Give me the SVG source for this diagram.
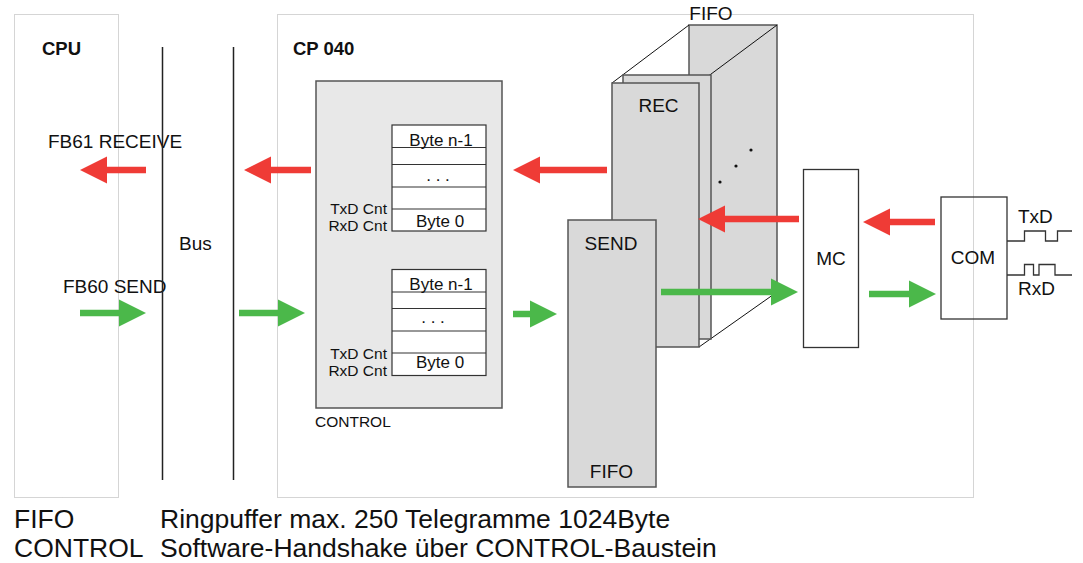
<svg xmlns="http://www.w3.org/2000/svg" width="1083" height="563" viewBox="0 0 1083 563">
<style>
text{font-family:"Liberation Sans",Arial,sans-serif;fill:#111}
.t19{font-size:19px}
.b{font-size:18.5px;font-weight:bold}
.s{font-size:15.5px}
.by{font-size:17px}
.big{font-size:26.5px}
.mid{text-anchor:middle}
.end{text-anchor:end}
.dot{fill:none;stroke:#aaa;stroke-width:1;stroke-dasharray:1 1}
.bus{stroke:#222;stroke-width:1.5}
.ctl{fill:#e8e8e8;stroke:#555;stroke-width:1.5}
.tab{fill:#fff;stroke:#333;stroke-width:1.2}
.row{stroke:#333;stroke-width:1.2}
.grey{fill:#d9d9d9;stroke:#555;stroke-width:1.5}
.edge{stroke:#111;stroke-width:1;fill:none}
.box{fill:#fff;stroke:#333;stroke-width:1.3}
.red{stroke:#ef3b36;stroke-width:6.5;marker-end:url(#hr)}
.grn{stroke:#4bb84a;stroke-width:6.5;marker-end:url(#hg)}
.sig{fill:none;stroke:#333;stroke-width:1.3}
</style>
<defs>
<marker id="hr" markerUnits="userSpaceOnUse" markerWidth="28" markerHeight="28" refX="0" refY="13.5" orient="auto" viewBox="0 0 28 28" overflow="visible"><path d="M0,0 L27,13.5 L0,27 z" fill="#ef3b36"/></marker>
<marker id="hg" markerUnits="userSpaceOnUse" markerWidth="28" markerHeight="28" refX="0" refY="13.5" orient="auto" viewBox="0 0 28 28" overflow="visible"><path d="M0,0 L27,13.5 L0,27 z" fill="#4bb84a"/></marker>
</defs>
<rect width="1083" height="563" fill="#fff"/>

<g id="cpu">
<rect class="dot" x="14.5" y="14.5" width="104" height="483"/>
<text class="b" x="42" y="55">CPU</text>
<text class="t19" x="48" y="148">FB61 RECEIVE</text>
<text class="t19" x="63" y="293">FB60 SEND</text>
</g>

<g id="bus">
<line class="bus" x1="162.5" y1="47" x2="162.5" y2="480"/>
<line class="bus" x1="233.5" y1="47" x2="233.5" y2="480"/>
<text class="t19" x="179" y="250">Bus</text>
</g>

<g id="cp040">
<rect class="dot" x="277.5" y="14.5" width="696" height="483"/>
<text class="b" x="293" y="55">CP 040</text>
</g>

<g id="control">
<rect class="ctl" x="316" y="81" width="186" height="327"/>
<text class="s" x="315" y="427">CONTROL</text>
</g>

<g id="table-receive">
<rect class="tab" x="392" y="125" width="94" height="106"/>
<line class="row" x1="392" y1="147.5" x2="486" y2="147.5"/>
<line class="row" x1="392" y1="164.5" x2="486" y2="164.5"/>
<line class="row" x1="392" y1="187" x2="486" y2="187"/>
<line class="row" x1="392" y1="209" x2="486" y2="209"/>
<text class="by mid" x="441" y="146">Byte n-1</text>
<text class="by mid" x="438" y="181">. . .</text>
<text class="by mid" x="440" y="227">Byte 0</text>
<text class="s end" x="387" y="214">TxD Cnt</text>
<text class="s end" x="387" y="231">RxD Cnt</text>
</g>

<g id="table-send">
<rect class="tab" x="392" y="269.5" width="94" height="106"/>
<line class="row" x1="392" y1="292" x2="486" y2="292"/>
<line class="row" x1="392" y1="308.5" x2="486" y2="308.5"/>
<line class="row" x1="392" y1="331" x2="486" y2="331"/>
<line class="row" x1="392" y1="353" x2="486" y2="353"/>
<text class="by mid" x="441" y="290">Byte n-1</text>
<text class="by mid" x="433" y="323">. . .</text>
<text class="by mid" x="440" y="368">Byte 0</text>
<text class="s end" x="387" y="359">TxD Cnt</text>
<text class="s end" x="387" y="376">RxD Cnt</text>
</g>

<g id="fifo-rec">
<rect class="grey" x="689" y="25" width="88" height="267"/>
<line class="edge" x1="612" y1="83" x2="689" y2="25"/>
<line class="edge" x1="699" y1="83" x2="777" y2="25"/>
<line class="edge" x1="699" y1="347" x2="777" y2="292"/>
<rect class="grey" x="623" y="75" width="88" height="264"/>
<rect class="grey" x="612" y="83" width="87" height="264"/>
<circle cx="751" cy="150" r="1.6" fill="#111"/>
<circle cx="736" cy="166" r="1.6" fill="#111"/>
<circle cx="720" cy="182" r="1.6" fill="#111"/>
<text class="t19 mid" x="711" y="20">FIFO</text>
<text class="t19 mid" x="658.5" y="112">REC</text>
</g>

<g id="fifo-send">
<rect class="grey" x="568" y="220" width="88" height="267"/>
<text class="t19 mid" x="611" y="250">SEND</text>
<text class="t19 mid" x="611.5" y="478">FIFO</text>
</g>

<g id="mc">
<rect class="box" x="803.5" y="169.5" width="55" height="178"/>
<text class="t19 mid" x="831" y="265">MC</text>
</g>

<g id="com">
<rect class="box" x="941" y="197" width="66" height="122" fill="none" style="fill:none"/>
<text class="t19 mid" x="973" y="264">COM</text>
<polyline class="sig" points="1007,241 1024.5,241 1024.5,231 1045.5,231 1045.5,241 1057.5,241 1057.5,231 1072,231"/>
<polyline class="sig" points="1007,275 1024.5,275 1024.5,264.5 1033.5,264.5 1033.5,275 1039,275 1039,264.5 1055,264.5 1055,275 1072,275"/>
<text class="t19" x="1018" y="223">TxD</text>
<text class="t19" x="1018" y="295">RxD</text>
</g>

<g id="connectors">
<line class="red" x1="146" y1="170" x2="107" y2="170"/>
<line class="red" x1="311" y1="170" x2="271" y2="170"/>
<line class="red" x1="607" y1="170" x2="540" y2="170"/>
<line class="red" x1="799" y1="219" x2="725" y2="219"/>
<line class="red" x1="935" y1="222" x2="890" y2="222"/>
<line class="grn" x1="80" y1="313" x2="119" y2="313"/>
<line class="grn" x1="239" y1="313" x2="278" y2="313"/>
<line class="grn" x1="513" y1="314" x2="530" y2="314"/>
<line class="grn" x1="661" y1="292" x2="771" y2="292"/>
<line class="grn" x1="869" y1="294" x2="909" y2="294"/>
</g>

<g id="legend">
<text class="big" x="14" y="528">FIFO</text>
<text class="big" x="160" y="528">Ringpuffer max. 250 Telegramme 1024Byte</text>
<text class="big" x="14" y="557">CONTROL</text>
<text class="big" x="160" y="557">Software-Handshake über CONTROL-Baustein</text>
</g>
</svg>
